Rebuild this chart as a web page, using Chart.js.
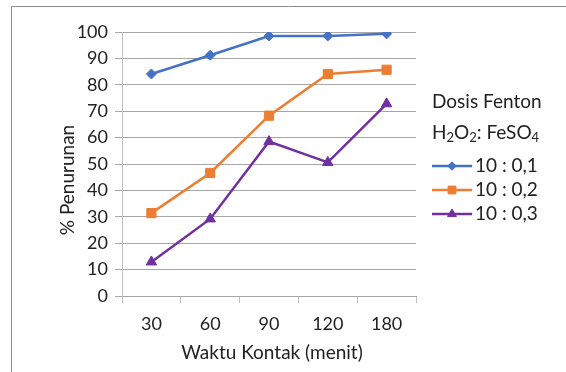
<!DOCTYPE html>
<html>
<head>
<meta charset="utf-8">
<script src="https://cdn.jsdelivr.net/npm/chart.js@4"></script>
<style>
  html, body { margin: 0; padding: 0; background: #fff; }
  #wrap { width: 566px; height: 372px; position: relative; }
</style>
</head>
<body>
<div id="wrap"><canvas id="c" width="566" height="372"></canvas></div>
<script>
// Contact time categories (minutes)
const categories = ['30', '60', '90', '120', '180'];

// % reduction for each Fenton dose ratio H2O2 : FeSO4
const seriesLabels = ['10 : 0,1', '10 : 0,2', '10 : 0,3'];
const dose01 = [84.1, 91.2, 98.5, 98.5, 99.3];
const dose02 = [31.4, 46.6, 68.3, 84.1, 85.7];
const dose03 = [12.9, 29.2, 58.5, 50.6, 72.8];

// Y axis ticks
const yTicks = [0, 10, 20, 30, 40, 50, 60, 70, 80, 90, 100];

const xTitle = 'Waktu Kontak (menit)';
const yTitle = '% Penurunan';
const legendTitle = 'Dosis Fenton';

const FONT = 'Lato, "Open Sans", sans-serif';
const TEXT = '#222222';
const colors = ['#4472C4', '#ED7D31', '#7030A0'];
const styles = ['rectRot', 'rect', 'triangle'];
const radii = [5, 6.5, 6];

const datasets = [dose01, dose02, dose03].map((d, i) => ({
  label: seriesLabels[i],
  data: d,
  borderColor: colors[i],
  backgroundColor: colors[i],
  borderWidth: 2.5,
  pointStyle: styles[i],
  pointRadius: radii[i],
  pointHoverRadius: radii[i],
  pointBorderWidth: 1,
  pointBorderColor: colors[i],
  pointBackgroundColor: colors[i],
  tension: 0
}));

// Outer frame, axis titles and the side legend
const decorations = {
  id: 'decorations',
  afterDraw(chart) {
    const ctx = chart.ctx;
    const area = chart.chartArea;
    ctx.save();

    // frame
    ctx.strokeStyle = '#8c8c8c';
    ctx.lineWidth = 1;
    ctx.beginPath();
    ctx.moveTo(11.5, 372);
    ctx.lineTo(11.5, 6.5);
    ctx.lineTo(566, 6.5);
    ctx.stroke();

    ctx.fillStyle = TEXT;
    ctx.font = '19px ' + FONT;
    ctx.textBaseline = 'middle';

    // x title
    ctx.textAlign = 'center';
    ctx.fillText(xTitle, (area.left + area.right) / 2 + 3, 353);

    // y title
    ctx.save();
    ctx.translate(68, 180);
    ctx.rotate(-Math.PI / 2);
    ctx.fillText(yTitle, 0, 0);
    ctx.restore();

    // legend title
    const lx = 432;
    ctx.textAlign = 'left';
    ctx.font = '19px ' + FONT;
    ctx.fillText(legendTitle, lx, 102);

    // "H2O2: FeSO4" with subscripts
    const parts = [['H', false], ['2', true], ['O', false], ['2', true], [': FeSO', false], ['4', true]];
    let x = lx;
    parts.forEach(([t, sub]) => {
      ctx.font = (sub ? '13px ' : '19px ') + FONT;
      ctx.fillText(t, x, sub ? 138 : 133);
      x += ctx.measureText(t).width;
    });

    // entries
    const rows = [166, 190, 214];
    chart.data.datasets.forEach((ds, i) => {
      const y = rows[i];
      const cx = lx + 20;
      ctx.strokeStyle = ds.borderColor;
      ctx.lineWidth = 2.5;
      ctx.beginPath();
      ctx.moveTo(lx, y);
      ctx.lineTo(lx + 40, y);
      ctx.stroke();
      ctx.fillStyle = ds.backgroundColor;
      ctx.lineWidth = 1;
      ctx.beginPath();
      const r = ds.pointRadius * 0.85;
      if (ds.pointStyle === 'rectRot') {
        ctx.moveTo(cx, y - r); ctx.lineTo(cx + r, y);
        ctx.lineTo(cx, y + r); ctx.lineTo(cx - r, y);
      } else if (ds.pointStyle === 'rect') {
        const s = r * Math.SQRT1_2;
        ctx.rect(cx - s, y - s, 2 * s, 2 * s);
      } else {
        ctx.moveTo(cx, y - r);
        ctx.lineTo(cx + r * 0.866, y + r * 0.5);
        ctx.lineTo(cx - r * 0.866, y + r * 0.5);
      }
      ctx.closePath();
      ctx.fill();
      ctx.stroke();
      ctx.fillStyle = TEXT;
      ctx.font = '19px ' + FONT;
      ctx.fillText(ds.label, lx + 43, y);
    });

    ctx.restore();
  }
};

new Chart(document.getElementById('c'), {
  type: 'line',
  data: { labels: categories, datasets },
  options: {
    responsive: false,
    animation: false,
    devicePixelRatio: 1,
    layout: { padding: { top: 32, right: 150, bottom: 0, left: 0 } },
    plugins: { legend: { display: false }, tooltip: { enabled: false } },
    scales: {
      x: {
        type: 'category',
        offset: true,
        afterFit(scale) { scale.height = 76; },
        grid: {
          offset: true,
          drawOnChartArea: false,
          drawTicks: true,
          tickLength: 7,
          color: '#bfbfbf'
        },
        border: { color: '#a6a6a6', width: 1 },
        ticks: {
          color: TEXT,
          font: { family: FONT, size: 18 },
          padding: 10,
          maxRotation: 0
        }
      },
      y: {
        min: 0,
        max: 100,
        afterFit(scale) { scale.width = 122; },
        afterBuildTicks(scale) { scale.ticks = yTicks.map(v => ({ value: v })); },
        grid: {
          color: '#a6a6a6',
          drawTicks: true,
          tickLength: 7
        },
        border: { color: '#bfbfbf', width: 1 },
        ticks: {
          color: TEXT,
          font: { family: FONT, size: 18 },
          padding: 7
        }
      }
    }
  },
  plugins: [decorations]
});
</script>
</body>
</html>
